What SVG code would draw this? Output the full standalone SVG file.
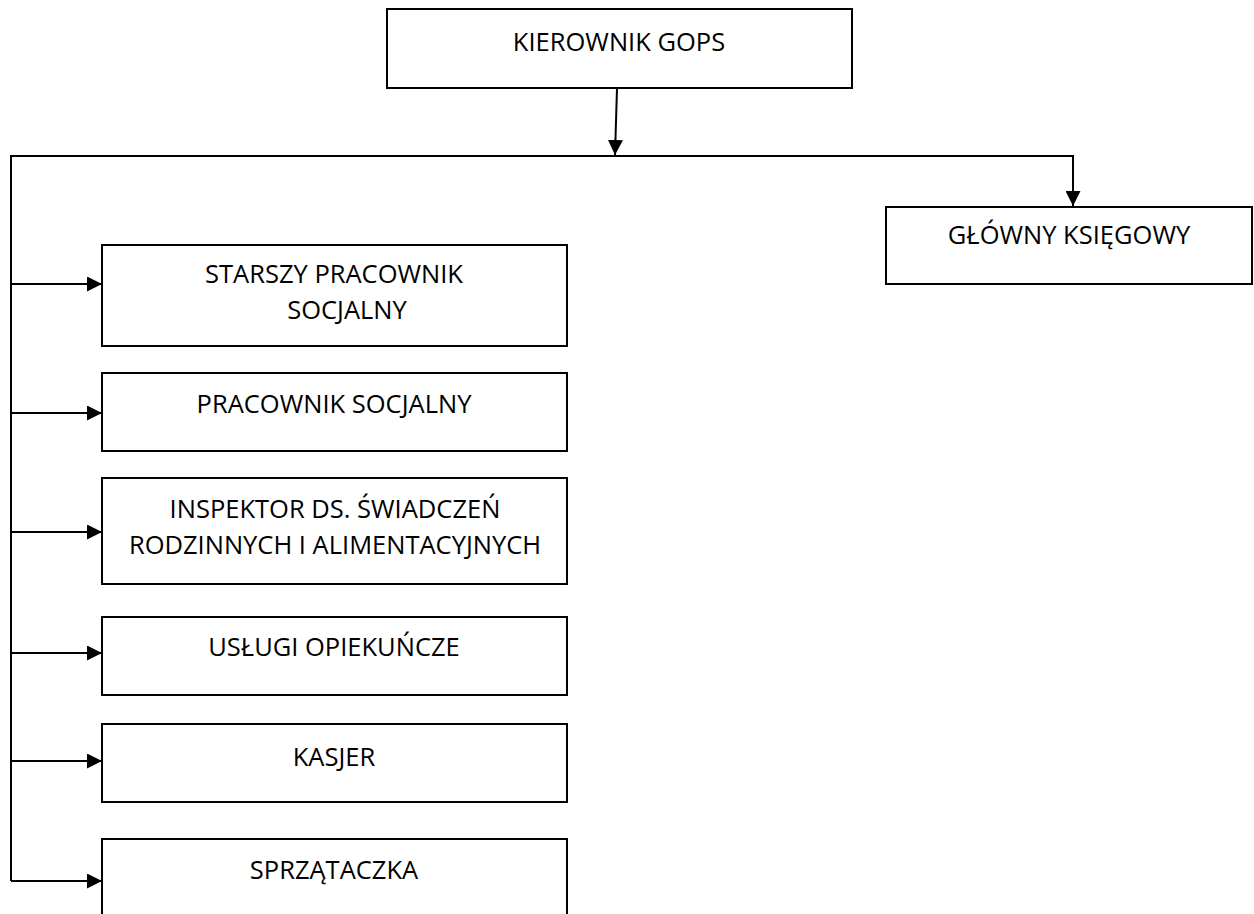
<svg xmlns="http://www.w3.org/2000/svg" width="1254" height="914" viewBox="0 0 1254 914">
<style>
.box{fill:#fff;stroke:#000;stroke-width:2}
.t{font-family:"Open Sans","Noto Sans",sans-serif;font-size:25.5px;fill:#000;text-anchor:middle}
.c{fill:none;stroke:#000;stroke-width:2}
</style>
<defs>
<marker id="ah" markerWidth="15" markerHeight="15" refX="15" refY="7.5" orient="auto" markerUnits="userSpaceOnUse">
<path d="M0,0 L15,7.5 L0,15 Z" fill="#000"/>
</marker>
</defs>
<rect width="1254" height="914" fill="#fff"/>
<g id="connectors">
<path class="c" d="M617,88 L615,155" marker-end="url(#ah)"/>
<path class="c" d="M11,881 L11,156 L1073,156 L1073,206" marker-end="url(#ah)"/>
<path class="c" d="M11,284 L102,284" marker-end="url(#ah)"/>
<path class="c" d="M11,413 L102,413" marker-end="url(#ah)"/>
<path class="c" d="M11,532 L102,532" marker-end="url(#ah)"/>
<path class="c" d="M11,653 L102,653" marker-end="url(#ah)"/>
<path class="c" d="M11,761 L102,761" marker-end="url(#ah)"/>
<path class="c" d="M11,881 L102,881" marker-end="url(#ah)"/>
</g>
<g id="kierownik">
<rect class="box" x="387" y="9" width="465" height="79"/>
<text class="t" x="619" y="51">KIEROWNIK GOPS</text>
</g>
<g id="ksiegowy">
<rect class="box" x="886" y="207" width="366" height="77"/>
<text class="t" x="1069" y="244">GŁÓWNY KSIĘGOWY</text>
</g>
<g id="starszy">
<rect class="box" x="102" y="245" width="465" height="101"/>
<text class="t" x="334" y="283">STARSZY PRACOWNIK</text>
<text class="t" x="347" y="319">SOCJALNY</text>
</g>
<g id="pracownik">
<rect class="box" x="102" y="373" width="465" height="78"/>
<text class="t" x="334" y="413">PRACOWNIK SOCJALNY</text>
</g>
<g id="inspektor">
<rect class="box" x="102" y="478" width="465" height="106"/>
<text class="t" x="335" y="518">INSPEKTOR DS. ŚWIADCZEŃ</text>
<text class="t" x="335" y="554">RODZINNYCH I ALIMENTACYJNYCH</text>
</g>
<g id="uslugi">
<rect class="box" x="102" y="617" width="465" height="78"/>
<text class="t" x="334" y="656">USŁUGI OPIEKUŃCZE</text>
</g>
<g id="kasjer">
<rect class="box" x="102" y="724" width="465" height="78"/>
<text class="t" x="334" y="766">KASJER</text>
</g>
<g id="sprzataczka">
<rect class="box" x="102" y="839" width="465" height="90"/>
<text class="t" x="334" y="879">SPRZĄTACZKA</text>
</g>
</svg>
